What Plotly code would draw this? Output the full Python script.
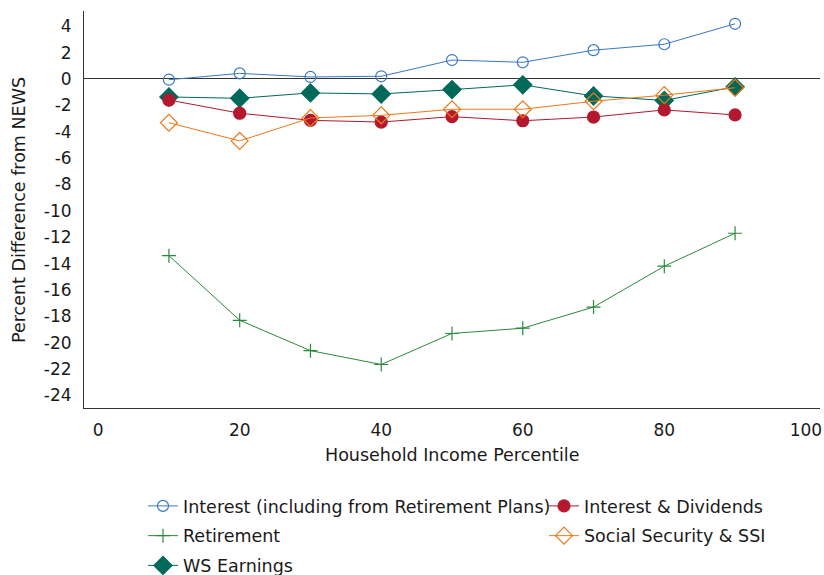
import plotly.graph_objects as go

percentile = [10, 20, 30, 40, 50, 60, 70, 80, 90]

interest_incl_retirement = [-0.06, 0.42, 0.15, 0.2, 1.43, 1.26, 2.18, 2.63, 4.18]
interest_dividends = [-1.6, -2.6, -3.14, -3.27, -2.86, -3.17, -2.89, -2.35, -2.73]
retirement = [-13.4, -18.3, -20.6, -21.65, -19.3, -18.9, -17.3, -14.2, -11.7]
social_security = [-3.32, -4.7, -2.96, -2.76, -2.3, -2.3, -1.69, -1.23, -0.67]
ws_earnings = [-1.37, -1.47, -1.06, -1.14, -0.81, -0.45, -1.29, -1.63, -0.6]

y_ticks = list(range(4, -25, -2))
y_tick_labels = [str(v) for v in y_ticks]  # plain hyphen for negatives
x_ticks = [0, 20, 40, 60, 80, 100]

x_title = "Household Income Percentile"
y_title = "Percent Difference from NEWS"

FONT = "DejaVu Sans"
TEXT_COLOR = "#1a1a1a"

fig = go.Figure()

series = [
    ("Interest (including from Retirement Plans)", interest_incl_retirement,
     "#3a78c3", "circle-open", 11, "legend"),
    ("Retirement", retirement, "#2a8a3c", "cross-thin-open", 10, "legend"),
    ("WS Earnings", ws_earnings, "#006a5a", "diamond", 14, "legend"),
    ("Interest & Dividends", interest_dividends, "#b3182e", "circle", 12, "legend2"),
    ("Social Security & SSI", social_security, "#f07818", "diamond-open", 13, "legend2"),
]

for name, vals, color, symbol, size, leg in series:
    fig.add_trace(go.Scatter(
        x=percentile, y=vals, name=name, mode="lines+markers",
        line=dict(color=color, width=1),
        marker=dict(symbol=symbol, size=size, color=color,
                    line=dict(color=color, width=1.2)),
        legend=leg, legendgroup=name,
    ))

legend_style = dict(
    orientation="v", yanchor="top", xanchor="left",
    xref="container", yref="container",
    font=dict(family=FONT, size=17.5, color=TEXT_COLOR),
    traceorder="grouped", tracegroupgap=4,
    bgcolor="rgba(0,0,0,0)", itemwidth=30,
)

fig.update_layout(
    width=824, height=575,
    margin=dict(l=84, r=4, t=11, b=167, autoexpand=False),
    paper_bgcolor="white", plot_bgcolor="white",
    font=dict(family=FONT, size=17, color=TEXT_COLOR),
    showlegend=True,
    legend=dict(x=143 / 824, y=1 - 488 / 575, **legend_style),
    legend2=dict(x=544 / 824, y=1 - 488 / 575, **legend_style),
    xaxis=dict(
        range=[-2, 102], tickvals=x_ticks, ticks="outside", ticklen=7,
        tickcolor="rgba(0,0,0,0)", showgrid=False, zeroline=False,
        showline=True, linecolor="#333", linewidth=1, automargin=False,
        tickfont=dict(family=FONT, size=17),
    ),
    yaxis=dict(
        range=[-24.95, 5.15], tickvals=y_ticks, ticktext=y_tick_labels,
        ticks="outside", ticklen=8,
        tickcolor="rgba(0,0,0,0)", showgrid=False,
        zeroline=True, zerolinecolor="#333", zerolinewidth=1,
        showline=True, linecolor="#333", linewidth=1, automargin=False,
        tickfont=dict(family=FONT, size=17),
    ),
    annotations=[
        dict(text=x_title, xref="paper", yref="paper", x=0.5, y=-0.118,
             xanchor="center", yanchor="middle", showarrow=False,
             font=dict(family=FONT, size=17.5, color=TEXT_COLOR)),
        dict(text=y_title, xref="paper", yref="paper", x=-0.089, y=0.5,
             xanchor="center", yanchor="middle", showarrow=False, textangle=-90,
             font=dict(family=FONT, size=17.5, color=TEXT_COLOR)),
    ],
)

fig.write_html("out.html")
